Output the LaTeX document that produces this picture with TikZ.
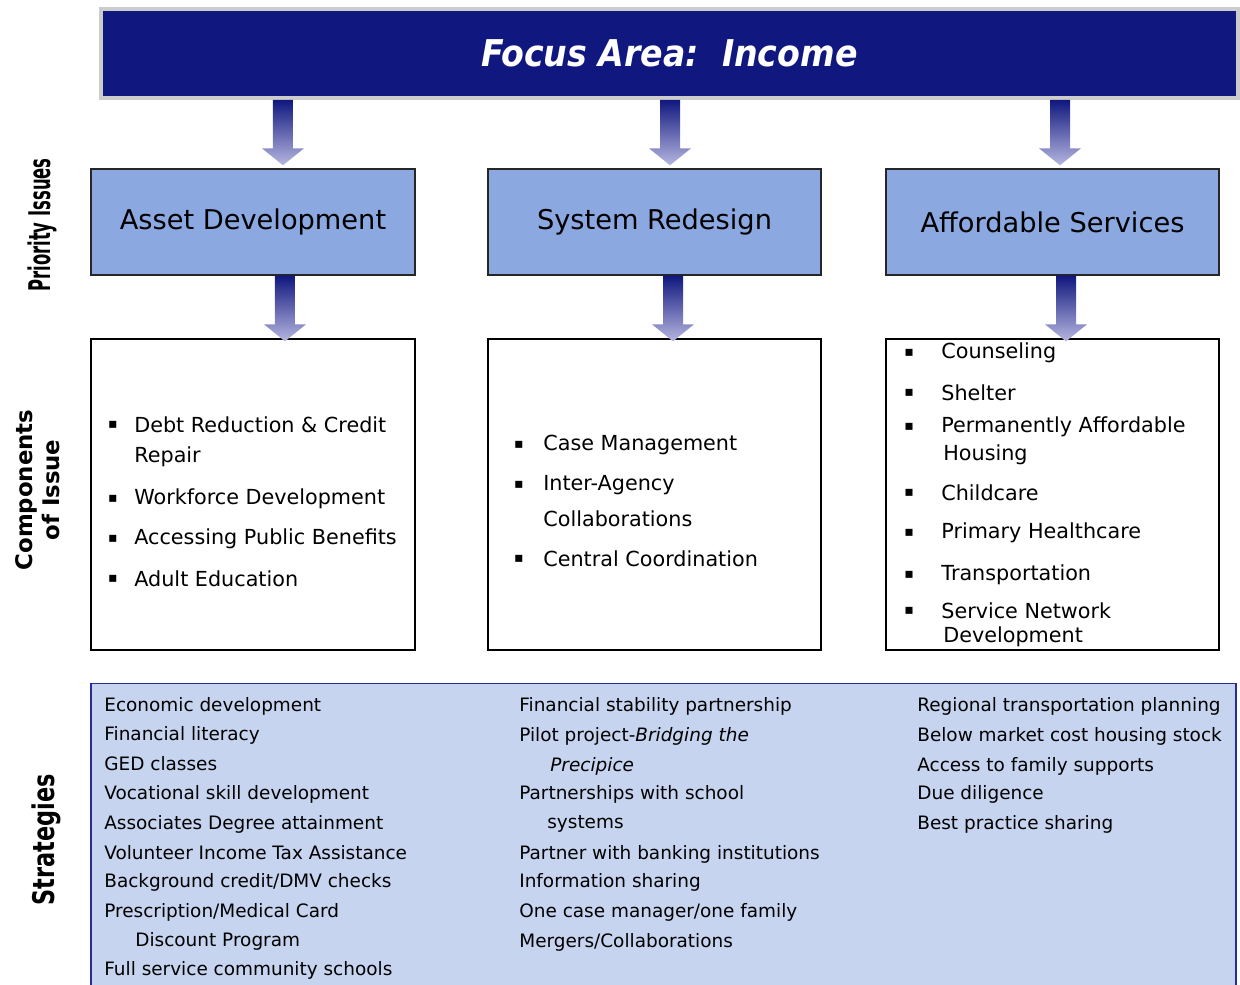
\documentclass[tikz,border=0pt]{standalone}
\usepackage{fontspec}
\setmainfont{DejaVu Sans}
\newfontfamily\condfont{DejaVu Sans Condensed}
\usetikzlibrary{calc}
\definecolor{navy}{RGB}{16,23,126}
\definecolor{issuefill}{RGB}{139,168,224}
\definecolor{stratfill}{RGB}{198,212,239}
\definecolor{stratline}{RGB}{40,44,150}
\definecolor{arrowbot}{RGB}{182,182,224}
% broad arrow, dark at the tail and pale at the head
\newcommand{\fadearrow}[2]{%
  \shade[top color=navy, bottom color=arrowbot]
    ($(#1)+(-10,0)$) -- ($(#1)+(10,0)$) -- ($(#2)+(10,-17)$) -- ($(#2)+(21,-17)$)
    -- (#2) -- ($(#2)+(-21,-17)$) -- ($(#2)+(-10,-17)$) -- cycle;}

\begin{document}
\begin{tikzpicture}[x=0.02cm,y=-0.02cm,
    issue/.style={draw=black!85, line width=0.8pt, fill=issuefill, minimum height=2.12cm, font=\fontsize{15.5}{18}\selectfont},
    comp/.style={draw=black, line width=0.8pt, fill=white, minimum height=6.22cm},
    item/.style={anchor=west, inner sep=0pt, font=\fontsize{11.8}{14}\selectfont},
    dot/.style={inner sep=0pt, font=\fontsize{8}{8}\selectfont},
    strat/.style={anchor=west, inner sep=0pt, font=\fontsize{10.5}{12}\selectfont},
    side/.style={rotate=90, inner sep=0pt, font=\bfseries}]
  \useasboundingbox (0,0) rectangle (1240,984);

  \node[draw=black!20, line width=2pt, fill=navy, minimum width=22.74cm, minimum height=1.78cm,
        text=white, font=\condfont\bfseries\itshape\fontsize{21}{24}\selectfont] at (669.5,53.5) (head){Focus Area:\ \ Income};

  \node[issue, minimum width=6.48cm] at (253,222) (asset){Asset Development};
  \node[issue, minimum width=6.66cm] at (654.5,222) (system){System Redesign};
  \node[issue, minimum width=6.66cm] at (1052.5,222) (afford){Affordable Services};

  \node[comp, minimum width=6.48cm] at (253,494.5) (compA){};
  \node[comp, minimum width=6.66cm] at (654.5,494.5) (compS){};
  \node[comp, minimum width=6.66cm] at (1052.5,494.5) (compF){};

  \node[draw=stratline, line width=1pt, fill=stratfill, minimum width=22.9cm, minimum height=6.3cm] at (663.5,841) (strat){};

  \foreach \src/\dst/\dx/\dy in {head/asset/0.6/0.06, head/system/0.31/0.06, head/afford/0.15/0.06,
      asset/compA/0.64/-0.06, system/compS/0.37/-0.06, afford/compF/0.27/-0.06} {
    \coordinate (tip) at ([xshift=\dx cm, yshift=\dy cm]\dst.north);
    \coordinate (tail) at (tip |- \src.south);
    \fadearrow{tail}{tip}
  }

  \node[side] at (42,225) (lblpri){\scalebox{0.55}[1]{\fontsize{17}{20}\selectfont Priority Issues}};
  \node[side, align=center, font=\bfseries\fontsize{13}{15.5}\selectfont] at (38,490) (lblcomp){Components\\of Issue};
  \node[side] at (46,840) (lblstrat){\scalebox{0.75}[1]{\fontsize{17}{20}\selectfont Strategies}};

  % components
  \foreach \y/\t in {425/Debt Reduction \& Credit, 499/Workforce Development, 539/Accessing Public Benefits, 579/Adult Education} {
    \node[dot] at (113,\y) {▪};
    \node[item] at (134,\y) (a\y){\t};
  }
  \node[item] at (134,457) (a457){Repair};
  \foreach \y/\t in {445/Case Management, 485/Inter-Agency, 559/Central Coordination} {
    \node[dot] at (519,\y) {▪};
    \node[item] at (543,\y) (s\y){\t};
  }
  \node[item] at (543,519) (s519){Collaborations};
  \foreach \y/\t in {353/Counseling, 393/Shelter, 427/Permanently Affordable, 493/Childcare, 533/Primary Healthcare, 575/Transportation, 611/Service Network} {
    \node[dot] at (909,\y) {▪};
    \node[item] at (941,\y) (f\y){\t};
  }
  \node[item] at (943,455) (f455){Housing};
  \node[item] at (943,637) (f637){Development};

  % strategies
  \foreach \y/\t in {706/Economic development, 735/Financial literacy, 764/GED classes, 794/Vocational skill development,
      824/Associates Degree attainment, 853/Volunteer Income Tax Assistance, 882/{Background credit/DMV checks},
      912/{Prescription/Medical Card}, 970/Full service community schools}
    \node[strat] at (104,\y) (x\y){\t};
  \node[strat] at (135,941) (x941){Discount Program};
  \foreach \y/\t in {706/Financial stability partnership, 736/Pilot project-\textit{Bridging the}, 794/Partnerships with school,
      854/Partner with banking institutions, 882/Information sharing, 912/{One case manager/one family}, 942/{Mergers/Collaborations}}
    \node[strat] at (519,\y) (y\y){\t};
  \node[strat] at (550,766) (y766){\textit{Precipice}};
  \node[strat] at (547,824) (y824){systems};
  \foreach \y/\t in {706/Regional transportation planning, 736/Below market cost housing stock, 766/Access to family supports,
      794/Due diligence, 824/Best practice sharing}
    \node[strat] at (917,\y) (z\y){\t};
\end{tikzpicture}
\end{document}
